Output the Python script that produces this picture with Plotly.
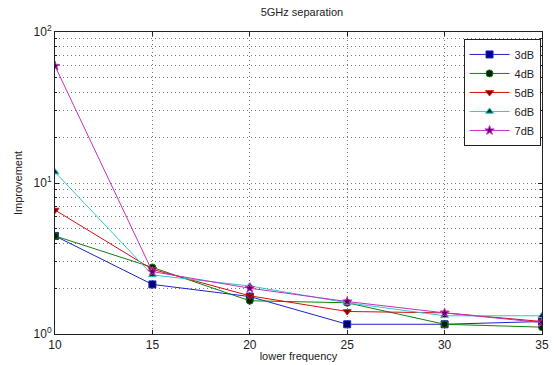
import plotly.graph_objects as go

freq = [10, 15, 20, 25, 30, 35]
s3dB = [4.46, 2.13, 1.77, 1.16, 1.16, 1.21]
s4dB = [4.46, 2.76, 1.66, 1.61, 1.16, 1.11]
s5dB = [6.62, 2.68, 1.79, 1.41, 1.38, 1.21]
s6dB = [11.8, 2.46, 2.08, 1.61, 1.32, 1.32]
s7dB = [59.6, 2.59, 2.01, 1.64, 1.38, 1.19]
names = ["3dB", "4dB", "5dB", "6dB", "7dB"]
series = [s3dB, s4dB, s5dB, s6dB, s7dB]
y_tickvals = [1, 10, 100]
y_ticktext = ["10<sup>0</sup>", "10<sup>1</sup>", "10<sup>2</sup>"]

line_colors = ["#2020d0", "#108010", "#d01010", "#30c8c8", "#c030c0"]
marker_fill = ["#000070", "#002000", "#800000", "#003030", "#500050"]
symbols = ["square", "circle", "triangle-down", "triangle-up", "star"]

fig = go.Figure()
for n, s, lc, mf, sym in zip(names, series, line_colors, marker_fill, symbols):
    fig.add_trace(go.Scatter(
        x=freq, y=s, name=n, mode="lines+markers",
        line=dict(color=lc, width=1),
        marker=dict(symbol=sym, size=7, color=mf, line=dict(color=lc, width=1)),
    ))

font = dict(family="Liberation Sans, Arial, sans-serif", size=11, color="#222")
grid = dict(showgrid=True, gridcolor="#777", griddash="1px,3px", gridwidth=1)

fig.update_layout(
    width=554, height=365,
    margin=dict(l=55, r=12, t=32, b=31),
    paper_bgcolor="white", plot_bgcolor="white",
    font=font,
    title=dict(text="5GHz separation", x=0.545, xanchor="center", y=0.978, yanchor="top",
               font=dict(size=11)),
    showlegend=True,
    legend=dict(x=0.997, y=0.977, xanchor="right", yanchor="top",
                bgcolor="white", bordercolor="#222", borderwidth=1,
                font=dict(size=11), tracegroupgap=0, itemwidth=40,
                itemsizing="trace"),
    xaxis=dict(
        range=[10, 35], tickvals=freq, automargin=False,
        **grid,
        showline=True, linecolor="#222", linewidth=1, mirror="ticks",
        ticks="inside", ticklen=4, tickcolor="#222",
        zeroline=False,
        title=dict(text="lower frequency", standoff=0, font=dict(size=11)),
        tickfont=dict(size=12),
    ),
    yaxis=dict(
        type="log", range=[0, 2], tickvals=y_tickvals, ticktext=y_ticktext,
        automargin=False,
        **grid,
        showline=True, linecolor="#222", linewidth=1, mirror="ticks",
        ticks="inside", ticklen=4, tickcolor="#222",
        minor=dict(dtick="D1", showgrid=True, gridcolor="#777", griddash="1px,3px",
                   ticks="inside", ticklen=2, tickcolor="#222"),
        zeroline=False,
        title=dict(text="Improvement", standoff=8, font=dict(size=11)),
        tickfont=dict(size=12),
    ),
)

fig.write_html(
    "out.html",
    config={"displayModeBar": False},
    post_script="document.body.style.margin='0';document.body.style.overflow='hidden';",
)
